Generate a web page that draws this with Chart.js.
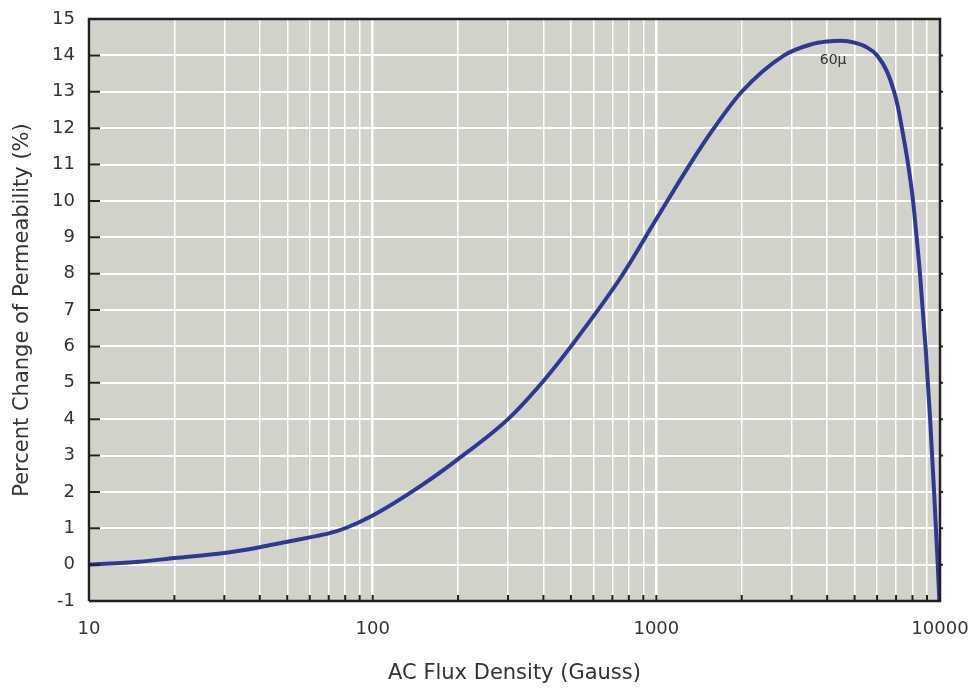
<!DOCTYPE html>
<html>
<head>
<meta charset="utf-8">
<script src="https://cdn.jsdelivr.net/npm/chart.js@4"></script>
<style>
  html, body { margin: 0; padding: 0; background: #fff; }
  #wrap { width: 972px; height: 690px; }
</style>
</head>
<body>
<div id="wrap"><canvas id="chart"></canvas></div>
<script>
// valores
const fluxDensity = [10, 15, 20, 30, 40, 50, 60, 70, 80, 100, 150, 200, 300, 400, 500, 750, 1000, 1300, 1580, 2000, 2820, 3500, 4000, 4500, 5000, 5500, 6000, 6500, 6890, 7100, 7340, 7720, 8035, 8260, 8490, 8690, 8910, 9230, 9530, 9820, 9950];
const permChange = [0, 0.08, 0.18, 0.32, 0.48, 0.63, 0.75, 0.86, 1.0, 1.35, 2.2, 2.9, 4.0, 5.05, 6.0, 7.9, 9.5, 10.95, 11.95, 13.0, 14.0, 14.3, 14.38, 14.4, 14.35, 14.23, 14.0, 13.56, 13.0, 12.6, 12.0, 11.0, 10.0, 9.05, 8.05, 7.0, 5.9, 4.0, 2.0, 0.0, -1];
const xLabels = [10, 100, 1000, 10000];
const yMin = -1, yMax = 15;
const curveLabel = '60μ';

const points = fluxDensity.map((x, i) => ({ x: x, y: permChange[i] }));

// ticks menores do eixo log
const minorTicks = [];
for (let d = 10; d < 10000; d *= 10) {
    for (let m = 1; m < 10; m++) minorTicks.push(d * m);
}
minorTicks.push(10000);

const textColor = '#333';
const fontFamily = '"DejaVu Sans", sans-serif';

// fundo, bordas e marcas internas
const framePlugin = {
    id: 'frame',
    beforeDraw(chart) {
        const { ctx, chartArea: a } = chart;
        ctx.save();
        ctx.fillStyle = '#d1d2c9';
        ctx.fillRect(a.left, a.top, a.right - a.left, a.bottom - a.top);
        ctx.restore();
    },
    afterDatasetsDraw(chart) {
        const { ctx, chartArea: a, scales } = chart;
        ctx.save();
        ctx.strokeStyle = '#231f20';
        ctx.lineWidth = 2.5;
        ctx.beginPath();
        ctx.moveTo(a.left, a.bottom);
        ctx.lineTo(a.left, a.top);
        ctx.lineTo(a.right, a.top);
        ctx.lineTo(a.right, a.bottom);
        ctx.lineTo(a.left, a.bottom);
        ctx.stroke();

        ctx.lineWidth = 2;
        ctx.beginPath();
        for (let v = yMin + 1; v < yMax; v++) {
            const py = scales.y.getPixelForValue(v);
            ctx.moveTo(a.left, py);
            ctx.lineTo(a.left + 11, py);
            ctx.moveTo(a.right, py);
            ctx.lineTo(a.right + 3, py);
        }
        minorTicks.forEach(v => {
            if (v === 10 || v === 10000) return;
            const px = scales.x.getPixelForValue(v);
            ctx.moveTo(px, a.bottom);
            ctx.lineTo(px, a.bottom - 6);
        });
        ctx.stroke();

        // rótulo da curva
        ctx.fillStyle = textColor;
        ctx.font = '14px ' + fontFamily;
        ctx.textAlign = 'center';
        ctx.textBaseline = 'middle';
        ctx.fillText(curveLabel, scales.x.getPixelForValue(4200), scales.y.getPixelForValue(13.85));
        ctx.restore();
    }
};

new Chart(document.getElementById('chart'), {
    type: 'line',
    data: {
        datasets: [{
            data: points,
            borderColor: '#2f3994',
            borderWidth: 4,
            pointRadius: 0,
            fill: false,
            cubicInterpolationMode: 'monotone'
        }]
    },
    options: {
        responsive: true,
        maintainAspectRatio: false,
        animation: false,
        layout: { padding: { top: 19, right: 32, left: 0, bottom: 0 } },
        plugins: { legend: { display: false }, tooltip: { enabled: false } },
        scales: {
            x: {
                type: 'logarithmic',
                min: 10,
                max: 10000,
                afterBuildTicks: s => { s.ticks = minorTicks.map(v => ({ value: v })); },
                afterFit: s => { s.height = 89; s.paddingLeft = 0; s.paddingRight = 0; },
                border: { display: false },
                grid: {
                    color: '#ffffff',
                    drawTicks: false,
                    lineWidth: c => (c.tick && xLabels.includes(c.tick.value)) ? 2.5 : 1.5
                },
                ticks: {
                    autoSkip: false,
                    maxRotation: 0,
                    padding: 18,
                    color: textColor,
                    font: { size: 18, family: fontFamily },
                    callback: v => xLabels.includes(v) ? String(v) : ''
                },
                title: {
                    display: true,
                    text: 'AC Flux Density (Gauss)',
                    color: textColor,
                    font: { size: 21, family: fontFamily },
                    padding: { top: 10 }
                }
            },
            y: {
                min: yMin,
                max: yMax,
                afterFit: s => { s.width = 89; s.paddingTop = 0; s.paddingBottom = 0; },
                border: { display: false },
                grid: { color: '#ffffff', lineWidth: 2, drawTicks: false },
                ticks: {
                    stepSize: 1,
                    padding: 14,
                    color: textColor,
                    font: { size: 18, family: fontFamily }
                },
                title: {
                    display: true,
                    text: 'Percent Change of Permeability (%)',
                    color: textColor,
                    font: { size: 21, family: fontFamily },
                    padding: { top: 10, bottom: 0 }
                }
            }
        }
    },
    plugins: [framePlugin]
});
</script>
</body>
</html>
